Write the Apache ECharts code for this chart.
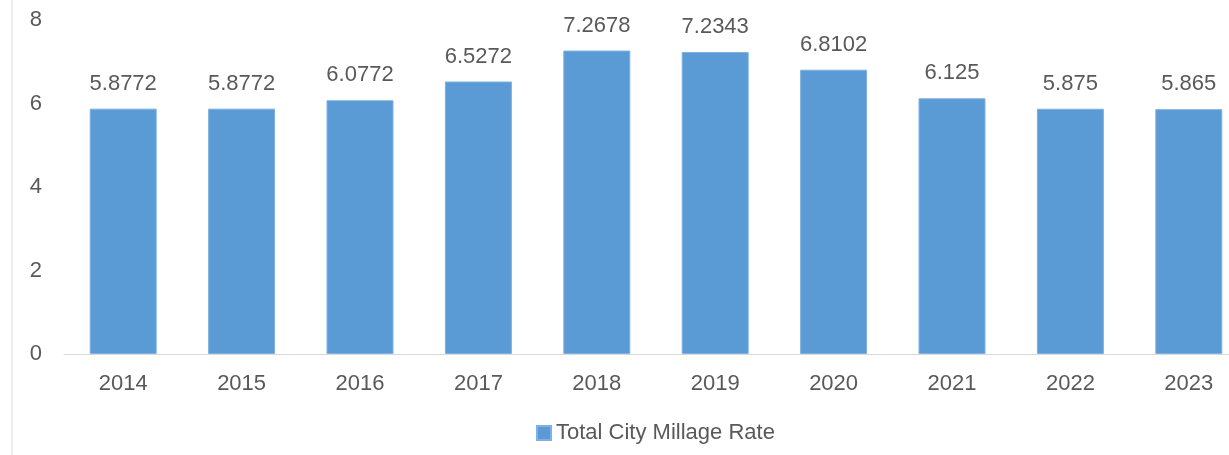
<!DOCTYPE html>
<html>
<head>
<meta charset="utf-8">
<script src="https://cdn.jsdelivr.net/npm/echarts@6/dist/echarts.min.js"></script>
<style>
  html, body { margin: 0; padding: 0; background: #fff; overflow: hidden; }
  #main { width: 1250px; height: 455px; }
</style>
</head>
<body>
<div id="main"></div>
<script>
var years = ['2014', '2015', '2016', '2017', '2018', '2019', '2020', '2021', '2022', '2023'];
var millageRate = [5.8772, 5.8772, 6.0772, 6.5272, 7.2678, 7.2343, 6.8102, 6.125, 5.875, 5.865];
var yTicks = { min: 0, max: 8, interval: 2 };
var seriesName = 'Total City Millage Rate';

var textFont = 'Liberation Sans';
var textColor = '#595959';

// the reference is cropped on the right, so the chart is a bit wider than the window
var chart = echarts.init(document.getElementById('main'));
chart.setOption({
    animation: false,
    graphic: [{
        type: 'line',
        shape: { x1: 12, y1: 0, x2: 12, y2: 455 },
        style: { stroke: '#d9d9d9', lineWidth: 1 }
    }],
    grid: { left: 64, top: 20, right: 2, bottom: 101 },
    legend: {
        bottom: 6,
        left: 531,
        itemWidth: 14,
        itemHeight: 14,
        itemGap: 7,
        data: [{ name: seriesName, icon: 'rect' }],
        textStyle: { fontFamily: textFont, fontSize: 22, color: textColor }
    },
    xAxis: {
        type: 'category',
        data: years,
        axisLine: { lineStyle: { color: '#d9d9d9', width: 1 } },
        axisTick: { show: false },
        axisLabel: { fontFamily: textFont, fontSize: 22, color: textColor, margin: 19 }
    },
    yAxis: {
        type: 'value',
        min: yTicks.min,
        max: yTicks.max,
        interval: yTicks.interval,
        splitLine: { show: false },
        axisLine: { show: false },
        axisTick: { show: false },
        axisLabel: { fontFamily: textFont, fontSize: 22, color: textColor, margin: 22 }
    },
    series: [{
        name: seriesName,
        type: 'bar',
        data: millageRate,
        barWidth: 67,
        itemStyle: { color: '#5b9bd5', borderColor: '#7fb2e0', borderWidth: 1 },
        label: {
            show: true,
            position: 'top',
            distance: 14,
            fontFamily: textFont,
            fontSize: 22,
            color: textColor
        }
    }]
});
</script>
</body>
</html>
